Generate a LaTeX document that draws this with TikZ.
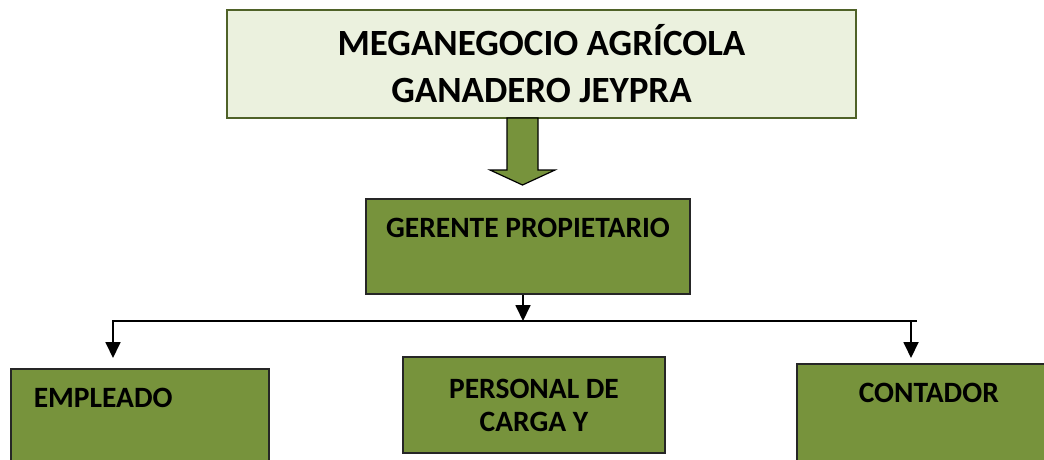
\documentclass[tikz,border=0pt]{standalone}
\usepackage{fontspec}
\setmainfont{Carlito}
\usepackage{tikz}
\usetikzlibrary{arrows.meta,positioning}
\definecolor{oliva}{HTML}{77933C}
\definecolor{olivaclaro}{HTML}{EBF1DE}
\definecolor{olivaborde}{HTML}{4F6228}
\tikzset{
	titlebox/.style={draw=olivaborde, line width=2.2pt, fill=olivaclaro, minimum width=629pt, minimum height=108pt, align=center, font=\fontsize{37}{47}\selectfont\bfseries},
	cargo/.style={draw=black!85, line width=1.6pt, fill=oliva, inner ysep=0pt, font=\fontsize{29.5}{33}\selectfont\bfseries},
	>={Triangle[width=15pt,length=16pt]}
}
\begin{document}
\begin{tikzpicture}[x=1pt, y=-1pt]
		\useasboundingbox (0,0) rectangle (1044,459);
		\node(T)[titlebox] at (541.5,64){MEGANEGOCIO AGRÍCOLA\\GANADERO JEYPRA};
		\node(G)[cargo, anchor=north, minimum width=324pt, text height=39pt, text depth=56pt] at (528,198){GERENTE PROPIETARIO};
		\node(E)[cargo, anchor=north west, text width=212pt, inner xsep=23pt, align=left, text height=39pt, text depth=100pt] at (10,368){EMPLEADO};
		\node(P)[cargo, minimum width=262pt, minimum height=96pt, align=center] at (534,405){PERSONAL DE\\CARGA Y};
		\node(C)[cargo, anchor=north west, minimum width=264pt, text height=39pt, text depth=100pt] at (796,363){CONTADOR};
		\coordinate(Ftip) at (522.5,185);
		\draw[black, line width=1.2pt, fill=oliva] (507,118) -- (538,118) -- (538,170) -- (555,170) -- (Ftip) -- (490,170) -- (507,170) -- cycle;
		\coordinate(M) at (523,321);
		\coordinate(L) at (112,321);
		\coordinate(R) at (917,321);
		\draw[line width=1.6pt](L) -- (R);
		\draw[->, line width=1.8pt](G.south -| M) to (M);
		\draw[->, line width=1.8pt, shorten >=10pt]([xshift=1pt]L) to ([xshift=1pt]L |- E.north);
		\draw[->, line width=1.8pt, shorten >=5pt]([xshift=-6pt]R) to ([xshift=-6pt]R |- C.north);
	\end{tikzpicture}
\end{document}
